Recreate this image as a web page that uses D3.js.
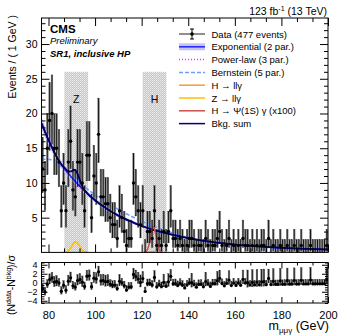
<!DOCTYPE html>
<html>
<head>
<meta charset="utf-8">
<script src="https://cdn.jsdelivr.net/npm/d3@7"></script>
<style>
  body { margin: 0; background: #fff; }
  svg { display: block; }
  text { font-family: "Liberation Sans", Arial, Helvetica, sans-serif; fill: #000; }
</style>
</head>
<body>
<div id="vis"></div>
<script>
// binned data, 1 GeV bins starting at 77 GeV
const binStart = 77;
const counts = [
  12, 9, 15, 19, 20, 15, 15, 13, 6, 10,
  6, 13, 16, 9, 8, 13, 13, 10, 6, 14,
  14, 5, 11, 10, 17, 8, 8, 7, 7, 5,
  4, 4, 2, 6, 5, 3, 1, 2, 2, 10,
  8, 6, 4, 6, 0, 3, 3, 2, 6, 1,
  2, 1, 3, 1, 3, 6, 2, 2, 1, 2,
  1, 0, 1, 2, 2, 1, 0, 1, 1, 0,
  2, 1, 0, 1, 1, 2, 3, 1, 0, 1,
  2, 0, 1, 0, 1, 0, 2, 1, 1, 0,
  1, 0, 1, 0, 1, 1, 0, 2, 0, 1,
  0, 0, 1, 0, 0, 1, 0, 0, 1, 0,
  0, 1, 0, 0, 0, 1, 0, 0, 0, 0,
  0, 0, 1
];

// fitted curves
const expMass = [77, 80, 85, 90, 95, 100, 105, 110, 115, 120, 125, 130, 135, 140, 150, 160, 170, 180, 190, 200];
const expVals = [18.6, 16.2, 12.9, 10.8, 9.0, 7.5, 6.3, 5.3, 4.5, 3.8, 3.25, 2.8, 2.4, 2.05, 1.5, 1.12, 0.86, 0.66, 0.52, 0.42];
const expUnc  = [0.9, 0.75, 0.6, 0.5, 0.42, 0.36, 0.3, 0.26, 0.22, 0.19, 0.17, 0.15, 0.13, 0.12, 0.1, 0.09, 0.08, 0.07, 0.07, 0.07];

const plVals = [18.9, 16.4, 12.9, 10.7, 8.95, 7.5, 6.35, 5.35, 4.55, 3.85, 3.3, 2.85, 2.45, 2.1, 1.55, 1.17, 0.9, 0.7, 0.55, 0.45];

const bnMass = [77, 80, 83, 86, 90, 95, 100, 105, 110, 115, 120, 125, 130, 135, 140, 150, 160, 170, 180, 190, 200];
const bnVals = [13.4, 13.4, 13.0, 12.3, 11.1, 9.6, 8.3, 7.2, 6.2, 5.3, 4.5, 3.8, 3.15, 2.6, 2.15, 1.5, 1.05, 0.75, 0.57, 0.47, 0.42];

const bkgMass = [77, 80, 85, 86, 87, 88, 89, 90, 91, 92, 93, 94, 95, 96, 97, 100, 105, 110, 115, 120, 125, 130, 135, 140, 150, 160, 170, 180, 190, 200];
const bkgVals = [18.6, 16.2, 12.9, 12.5, 12.15, 11.8, 11.65, 11.7, 11.9, 11.65, 10.85, 9.95, 9.2, 8.75, 8.4, 7.5, 6.3, 5.3, 4.5, 3.8, 3.25, 2.8, 2.4, 2.05, 1.5, 1.12, 0.86, 0.66, 0.52, 0.42];

const zMass = [86, 87, 88, 89, 90, 91, 92, 93, 94, 95, 96, 97];
const zVals = [0, 0.03, 0.1, 0.4, 0.9, 1.45, 1.55, 1.1, 0.55, 0.2, 0.05, 0];

const hMass = [121, 122, 123, 124, 125, 126, 127, 128, 129];
const psiVals = [0, 0.15, 0.9, 2.6, 3.8, 2.6, 0.9, 0.15, 0];
const hllVals = [0, 0.01, 0.04, 0.1, 0.14, 0.1, 0.04, 0.01, 0];

// signal windows
const windows = [{ name: "Z", lo: 86.8, hi: 97.0 }, { name: "H", lo: 120.4, hi: 130.6 }];
const windowTop = 26;

const legendLabels = ["Data (477 events)", "Exponential (2 par.)", "Power-law (3 par.)", "Bernstein (5 par.)",
                      "H \u2192 ll\u03b3", "Z \u2192 ll\u03b3", "H \u2192 \u03a8(1S) \u03b3 (x100)", "Bkg. sum"];

const mainTicks = [5, 10, 15, 20, 25, 30];
const ratioTicks = [-4, -2, 0, 2, 4];
const xTicks = [80, 100, 120, 140, 160, 180, 200];

// colours
const cExp = "#2222ff", cBand = "#c4c4f2", cPl = "#e03ce0", cBn = "#6f9cff";
const cHll = "#f39a3c", cZ = "#ffbf00", cPsi = "#cc5050", cBkg = "#000070";
const cBox = "#b4b4b4", cBoxLine = "#555";

// layout
const plotL = 41.5, plotR = 328;
const mainT = 18, mainB = 252.4;
const ratT = 262.5, ratB = 303;
const boxW = 1.7;

const svg = d3.select("#vis").append("svg").attr("width", 338).attr("height", 335);

const x = d3.scaleLinear().domain([77, 200]).range([plotL, plotR]);
const y = d3.scaleLinear().domain([0, 33.75]).range([mainB, mainT]);
const yr = d3.scaleLinear().domain([-4.5, 4.5]).range([ratB, ratT]);

const defs = svg.append("defs");
const pat = defs.append("pattern").attr("id", "dots").attr("width", 2).attr("height", 2)
    .attr("patternUnits", "userSpaceOnUse");
pat.append("rect").attr("width", 2).attr("height", 2).attr("fill", "#c6c6c6");
pat.append("rect").attr("width", 1).attr("height", 1).attr("fill", "#ececec");
pat.append("rect").attr("x", 1).attr("y", 1).attr("width", 1).attr("height", 1).attr("fill", "#e2e2e2");

defs.append("clipPath").attr("id", "clipMain").append("rect")
    .attr("x", plotL).attr("y", mainT).attr("width", plotR - plotL).attr("height", mainB - mainT);
defs.append("clipPath").attr("id", "clipRatio").append("rect")
    .attr("x", plotL).attr("y", ratT).attr("width", plotR - plotL).attr("height", ratB - ratT);

// poisson (Gehrels) errors of each bin
function errHi(n) { return Math.sqrt(n + 0.75) + 1; }
function errLo(n) { return n === 0 ? 0 : n - n * Math.pow(1 - 1 / (9 * n) - 1 / (3 * Math.sqrt(n)), 3); }

const bkgAt = (m) => {
  const i = d3.bisectRight(bkgMass, m) - 1;
  const t = (m - bkgMass[i]) / (bkgMass[i + 1] - bkgMass[i]);
  return bkgVals[i] + t * (bkgVals[i + 1] - bkgVals[i]);
};

const bins = counts.map((n, i) => {
  const lo = binStart + i, c = lo + 0.5;
  const eLo = errLo(n), eHi = errHi(n);
  const b = bkgAt(c);
  const s = n >= b ? eLo : eHi;
  const pull = (n - b) / s;
  return { lo, c, n, eLo, eHi, pull, pLo: pull - eLo / s, pHi: pull + eHi / s };
});

// ---------- main panel ----------
const gMain = svg.append("g").attr("clip-path", "url(#clipMain)");

gMain.selectAll("rect.win").data(windows).enter().append("rect")
    .attr("x", (d) => x(d.lo)).attr("width", (d) => x(d.hi) - x(d.lo))
    .attr("y", y(windowTop)).attr("height", y(0) - y(windowTop))
    .attr("fill", "url(#dots)");

gMain.selectAll("text.win").data(windows).enter().append("text")
    .attr("x", (d) => x((d.lo + d.hi) / 2)).attr("y", 103)
    .attr("text-anchor", "middle").attr("font-size", 10.5).text((d) => d.name);

// data boxes
gMain.selectAll("rect.box").data(bins).enter().append("rect")
    .attr("x", (d) => x(d.c) - boxW / 2).attr("width", boxW)
    .attr("y", (d) => y(d.n + d.eHi)).attr("height", (d) => y(d.n - d.eLo) - y(d.n + d.eHi))
    .attr("fill", cBox).attr("stroke", cBoxLine).attr("stroke-width", 0.4);

// curves
const line = (xs, ys) => d3.line().curve(d3.curveMonotoneX)
    .x((d, i) => x(xs[i])).y((d) => y(d))(ys);

gMain.append("path")
    .attr("d", d3.area().curve(d3.curveMonotoneX)
      .x((d, i) => x(expMass[i]))
      .y0((d, i) => y(d - expUnc[i])).y1((d, i) => y(d + expUnc[i]))(expVals))
    .attr("fill", cBand);
gMain.append("path").attr("d", line(expMass, plVals)).attr("fill", "none")
    .attr("stroke", cPl).attr("stroke-width", 1.5).attr("stroke-dasharray", "1,2");
gMain.append("path").attr("d", line(bnMass, bnVals)).attr("fill", "none")
    .attr("stroke", cBn).attr("stroke-width", 1.5).attr("stroke-dasharray", "4,2");
gMain.append("path").attr("d", line(expMass, expVals)).attr("fill", "none")
    .attr("stroke", cExp).attr("stroke-width", 1.5);
gMain.append("path").attr("d", line(bkgMass, bkgVals)).attr("fill", "none")
    .attr("stroke", cBkg).attr("stroke-width", 1.8);
gMain.append("path").attr("d", line(zMass, zVals)).attr("fill", "none")
    .attr("stroke", cZ).attr("stroke-width", 1.5);
gMain.append("path").attr("d", line(hMass, hllVals)).attr("fill", "none")
    .attr("stroke", cHll).attr("stroke-width", 1.5);
gMain.append("path").attr("d", line(hMass, psiVals)).attr("fill", "none")
    .attr("stroke", cPsi).attr("stroke-width", 1.5);

// error bars and markers
gMain.selectAll("line.err").data(bins).enter().append("line")
    .attr("x1", (d) => x(d.c)).attr("x2", (d) => x(d.c))
    .attr("y1", (d) => y(d.n - d.eLo)).attr("y2", (d) => y(d.n + d.eHi))
    .attr("stroke", "#000").attr("stroke-width", 0.9);
gMain.selectAll("circle").data(bins.filter((d) => d.n > 0)).enter().append("circle")
    .attr("cx", (d) => x(d.c)).attr("cy", (d) => y(d.n)).attr("r", 1.7).attr("fill", "#000");

// ---------- ratio panel ----------
const gRat = svg.append("g").attr("clip-path", "url(#clipRatio)");
gRat.selectAll("rect").data(bins).enter().append("rect")
    .attr("x", (d) => x(d.c) - boxW / 2).attr("width", boxW)
    .attr("y", (d) => yr(d.pHi)).attr("height", (d) => yr(d.pLo) - yr(d.pHi))
    .attr("fill", cBox).attr("stroke", cBoxLine).attr("stroke-width", 0.4);
gRat.selectAll("line").data(bins).enter().append("line")
    .attr("x1", (d) => x(d.c)).attr("x2", (d) => x(d.c))
    .attr("y1", (d) => yr(d.pLo)).attr("y2", (d) => yr(d.pHi))
    .attr("stroke", "#000").attr("stroke-width", 0.9);
gRat.selectAll("circle").data(bins).enter().append("circle")
    .attr("cx", (d) => x(d.c)).attr("cy", (d) => yr(d.pull)).attr("r", 1.6).attr("fill", "#000");

// ---------- axes ----------
function axis(gen, scale, vals, size, tx, ty, fmt, fs) {
  const g = svg.append("g").attr("transform", `translate(${tx},${ty})`)
      .call(gen(scale).tickValues(vals).tickSize(size).tickPadding(4).tickFormat(fmt || (() => "")));
  g.select(".domain").remove();
  g.selectAll("line").attr("stroke", "#000");
  g.selectAll("text").attr("font-size", fs || 10.5).attr("fill", "#000")
      .style("font-family", '"Liberation Sans", Arial, sans-serif');
  return g;
}
const xMinor = d3.range(0, 19).map((k) => 80 + k * 20 / 3).filter((v) => v <= 200.01 && !xTicks.some((t) => Math.abs(t - v) < 0.01));
const yMinor = d3.range(1, 34).filter((v) => v % 5 !== 0);
const rMinor = d3.range(-4.5, 4.51, 0.5).filter((v) => v % 2 !== 0);

// main
axis(d3.axisLeft, y, mainTicks, -8, plotL, 0, d3.format("d"));
axis(d3.axisLeft, y, yMinor, -4, plotL, 0);
axis(d3.axisRight, y, mainTicks, -8, plotR, 0);
axis(d3.axisRight, y, yMinor, -4, plotR, 0);
axis(d3.axisTop, x, xTicks, -8, 0, mainT);
axis(d3.axisTop, x, xMinor, -4, 0, mainT);
axis(d3.axisBottom, x, xTicks, -8, 0, mainB);
axis(d3.axisBottom, x, xMinor, -4, 0, mainB);
// ratio
axis(d3.axisLeft, yr, ratioTicks, -6, plotL, 0, d3.format("d"), 9);
axis(d3.axisLeft, yr, rMinor, -3, plotL, 0);
axis(d3.axisRight, yr, ratioTicks, -6, plotR, 0);
axis(d3.axisRight, yr, rMinor, -3, plotR, 0);
axis(d3.axisTop, x, xTicks, -6, 0, ratT);
axis(d3.axisTop, x, xMinor, -3, 0, ratT);
axis(d3.axisBottom, x, xTicks, -6, 0, ratB, d3.format("d"), 11).selectAll("text").attr("dy", "1.1em");
axis(d3.axisBottom, x, xMinor, -3, 0, ratB);

[[mainT, mainB], [ratT, ratB]].forEach(([t, b]) => {
  svg.append("rect").attr("x", plotL).attr("y", t).attr("width", plotR - plotL).attr("height", b - t)
      .attr("fill", "none").attr("stroke", "#000").attr("stroke-width", 1);
});

// ---------- labels ----------
svg.append("text").attr("transform", "translate(16,15) rotate(-90)")
    .attr("text-anchor", "end").attr("font-size", 10.5).text("Events / ( 1 GeV )");

const rl = svg.append("text").attr("transform", "translate(15,285) rotate(-90)")
    .attr("text-anchor", "middle").attr("font-size", 10.5);
rl.append("tspan").text("(N");
rl.append("tspan").attr("font-size", 7).attr("dy", -4).text("data");
rl.append("tspan").attr("dy", 4).text("-N");
rl.append("tspan").attr("font-size", 7).attr("dy", -4).text("bkg");
rl.append("tspan").attr("dy", 4).text(")/\u03c3");

const xl = svg.append("text").attr("x", 329).attr("y", 330).attr("text-anchor", "end").attr("font-size", 12.5);
xl.append("tspan").text("m");
xl.append("tspan").attr("font-size", 8).attr("dy", 3).text("\u03bc\u03bc\u03b3");
xl.append("tspan").attr("dy", -3).text(" (GeV)");

const hd = svg.append("text").attr("x", 327).attr("y", 15).attr("text-anchor", "end").attr("font-size", 10.5);
hd.append("tspan").text("123 fb");
hd.append("tspan").attr("font-size", 7).attr("dy", -4).text("-1");
hd.append("tspan").attr("dy", 4).text("  (13 TeV)");

svg.append("text").attr("x", 50).attr("y", 33).attr("font-size", 11.5).attr("font-weight", "bold").text("CMS");
svg.append("text").attr("x", 50).attr("y", 44).attr("font-size", 9.5).attr("font-style", "italic").text("Preliminary");
svg.append("text").attr("x", 50).attr("y", 57).attr("font-size", 9.5).attr("font-style", "italic")
    .attr("font-weight", "bold").text("SR1, inclusive HP");

// ---------- legend ----------
const lx0 = 179, lx1 = 205, ltx = 211.5;
const leg = svg.append("g");
legendLabels.forEach((lab, i) => {
  const ly = 34 + i * 12.8;
  const g = leg.append("g");
  if (i === 0) {
    g.append("line").attr("x1", lx0).attr("x2", lx1).attr("y1", ly).attr("y2", ly).attr("stroke", "#444").attr("stroke-width", 1.2);
    g.append("line").attr("x1", 192).attr("x2", 192).attr("y1", ly - 5).attr("y2", ly + 5).attr("stroke", "#000").attr("stroke-width", 1);
    [ly - 5, ly + 5].forEach((yy) => g.append("line").attr("x1", 190).attr("x2", 194).attr("y1", yy).attr("y2", yy).attr("stroke", "#000"));
    g.append("circle").attr("cx", 192).attr("cy", ly).attr("r", 1.8).attr("fill", "#000");
  } else {
    if (i === 1) g.append("rect").attr("x", lx0).attr("y", ly - 3.5).attr("width", lx1 - lx0).attr("height", 7).attr("fill", cBand);
    const col = [null, cExp, cPl, cBn, cHll, cZ, cPsi, cBkg][i];
    const dash = i === 2 ? "1,2" : i === 3 ? "4,2" : null;
    g.append("line").attr("x1", lx0).attr("x2", lx1).attr("y1", ly).attr("y2", ly)
        .attr("stroke", col).attr("stroke-width", 1.5).attr("stroke-dasharray", dash);
  }
  g.append("text").attr("x", ltx).attr("y", ly + 3.5).attr("font-size", 9.5).text(lab);
});
</script>
</body>
</html>
